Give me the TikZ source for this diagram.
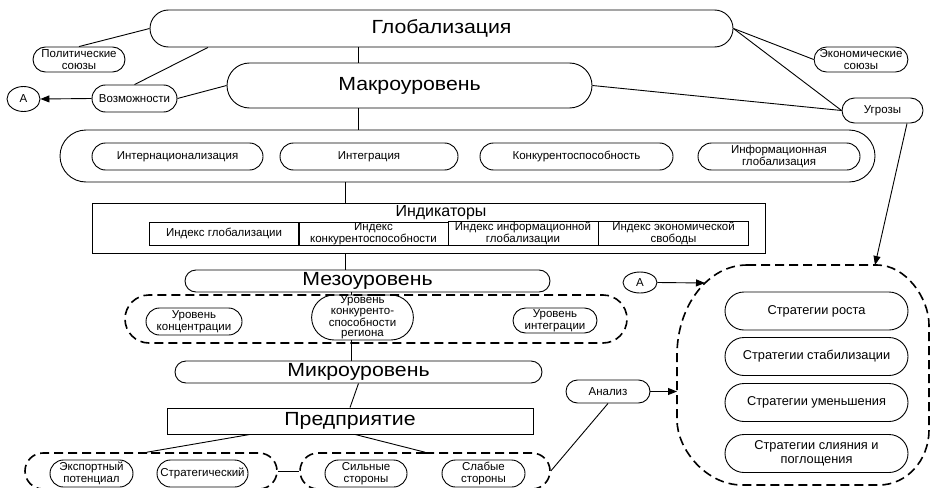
\documentclass[tikz,border=0pt]{standalone}
\usepackage{fontspec}
\setmainfont{Liberation Sans}
\newfontfamily\widesans[FakeStretch=1.12]{Liberation Sans}
\usetikzlibrary{shapes.misc,shapes.geometric,arrows.meta}
\newcommand\smallfnt{\fontsize{11.5}{12.5}\selectfont}
\newcommand\stratfnt{\fontsize{12.8}{14}\selectfont}
\newcommand\tightfnt{\fontsize{11.5}{10.8}\selectfont}
\newcommand\bigfnt{\widesans\fontsize{19}{22}\selectfont}
\newcommand\midfnt{\fontsize{16}{18}\selectfont}
\begin{document}
\begin{tikzpicture}[x=1pt,y=-1pt,
  pill/.style={rounded rectangle, draw, line width=0.9pt, inner sep=0pt, align=center, font=\smallfnt},
  bigpill/.style={pill, font=\bigfnt},
  cell/.style={rectangle, draw, line width=0.9pt, inner sep=0pt, align=center, font=\smallfnt},
  dbox/.style={rounded rectangle, draw, line width=1.6pt, dash pattern=on 9pt off 5pt, inner sep=0pt},
  link/.style={line width=0.9pt},
  arr/.style={line width=0.9pt, -{Triangle[length=9pt,width=7pt]}},
  oval/.style={ellipse, draw, line width=0.9pt, inner sep=0pt, font=\smallfnt}
]
\useasboundingbox (0,0) rectangle (931,487);

% ---------- global level ----------
\node[bigpill, minimum width=583pt, minimum height=37pt] (glob) at (441.5,28.5) {Глобализация};
\node[pill, minimum width=92pt, minimum height=25pt] (polit) at (79,59.5) {Политические\\союзы};
\node[pill, minimum width=92pt, minimum height=25pt] (econ) at (861,59.5) {Экономические\\союзы};
\node[bigpill, minimum width=365pt, minimum height=45pt] (makro) at (409.5,85.5) {Макроуровень};
\node[pill, minimum width=85pt, minimum height=27pt] (vozm) at (134.5,98.5) {Возможности};
\node[oval, minimum width=33pt, minimum height=25pt] (a1) at (23.5,99) {А};
\node[pill, minimum width=81pt, minimum height=25pt] (ugr) at (882.5,110.5) {Угрозы};

% ---------- macro factors ----------
\node[pill, minimum width=815pt, minimum height=52pt] (bigc) at (467.5,156) {};
\node[pill, minimum width=171pt, minimum height=27pt] (f1) at (177.5,156.5) {Интернационализация};
\node[pill, minimum width=178pt, minimum height=27pt] (f2) at (369,156.5) {Интеграция};
\node[pill, minimum width=193pt, minimum height=27pt] (f3) at (576.5,156.5) {Конкурентоспособность};
\node[pill, minimum width=162pt, minimum height=27pt] (f4) at (779,156.5) {Информационная\\глобализация};

% ---------- indicators ----------
\node[cell, minimum width=673pt, minimum height=50pt] (ind) at (428.5,228) {};
\node[font=\midfnt, inner sep=0pt] (indt) at (441,213) {Индикаторы};
\node[cell, minimum width=150pt, minimum height=23pt] (i1) at (224,233.5) {Индекс глобализации};
\node[cell, minimum width=150pt, minimum height=23pt] (i2) at (373.5,233.5) {Индекс\\конкурентоспособности};
\node[cell, minimum width=150pt, minimum height=23pt] (i3) at (523,233.5) {Индекс информационной\\глобализации};
\node[cell, minimum width=150pt, minimum height=23pt] (i4) at (673.5,233.5) {Индекс экономической\\свободы};

% ---------- meso level ----------
\node[bigpill, minimum width=365pt, minimum height=22pt] (meso) at (367.5,281) {Мезоуровень};
\node[dbox, minimum width=502pt, minimum height=48pt] (mesoc) at (376,319) {};
\node[pill, minimum width=96pt, minimum height=27pt] (conc) at (194,321.5) {Уровень\\концентрации};
\node[pill, minimum width=81pt, minimum height=45pt, font=\tightfnt] (reg) at (362.5,317.5) {Уровень\\конкуренто-\\способности\\региона};
\node[pill, minimum width=84pt, minimum height=25pt] (integ) at (555,320.5) {Уровень\\интеграции};

% ---------- micro level ----------
\node[bigpill, minimum width=367pt, minimum height=22pt] (mikro) at (358.5,372) {Микроуровень};
\node[cell, font=\bigfnt, minimum width=366pt, minimum height=26pt] (pred) at (350,421) {Предприятие};

\node[dbox, minimum width=252pt, minimum height=36pt] (lc) at (151,471) {};
\node[pill, minimum width=83pt, minimum height=27pt] (exp) at (91.5,473.5) {Экспортный\\потенциал};
\node[pill, minimum width=91pt, minimum height=27pt] (strg) at (202.5,473.5) {Стратегический};
\node[dbox, minimum width=250pt, minimum height=36pt] (rc) at (425,471) {};
\node[pill, minimum width=82pt, minimum height=27pt] (sil) at (366,473.5) {Сильные\\стороны};
\node[pill, minimum width=83pt, minimum height=27pt] (slab) at (483.5,473.5) {Слабые\\стороны};

\node[pill, minimum width=84pt, minimum height=23pt] (anal) at (608,391.5) {Анализ};
\node[oval, minimum width=34pt, minimum height=21pt] (a2) at (640,282.5) {А};

% ---------- strategies ----------
\draw[line width=1.6pt, dash pattern=on 9pt off 5pt]
  (747,265) -- (877,265)
  .. controls (905.7,265) and (929,298.1) .. (929,325)
  -- (929,430)
  .. controls (929,460.4) and (906.6,485) .. (879,485)
  -- (742,485)
  .. controls (706.1,485) and (677,449.1) .. (677,420)
  -- (677,355)
  .. controls (677,305.3) and (708.4,265) .. cycle;
\coordinate (stTop) at (875,265);
\coordinate (stA) at (705,283);
\coordinate (stW) at (677,391.5);
\node[pill, font=\stratfnt, minimum width=183pt, minimum height=38pt] (s1) at (816.5,311) {Стратегии роста};
\node[pill, font=\stratfnt, minimum width=183pt, minimum height=38pt] (s2) at (816.5,356.5) {Стратегии стабилизации};
\node[pill, font=\stratfnt, minimum width=183pt, minimum height=38pt] (s3) at (816.5,402.5) {Стратегии уменьшения};
\node[pill, font=\stratfnt, minimum width=183pt, minimum height=38pt] (s4) at (816.5,453.5) {Стратегии слияния и\\поглощения};

% ---------- connectors ----------
\coordinate (x358) at (358,0);
\coordinate (x208) at (208,0);
\coordinate (x345) at (345,0);
\coordinate (x351) at (351,0);
\coordinate (x250) at (250,0);
\coordinate (x147) at (147,0);
\coordinate (x355) at (355,0);
\coordinate (x907) at (907,0);

\draw[link] (glob.south -| x358) -- (makro.north -| x358);
\draw[link] (polit.north) -- (glob.west);
\draw[link] (vozm.north) -- (glob.south -| x208);
\draw[link] (vozm.east) -- (makro.west);
\draw[arr] (vozm.west) -- (a1.east);
\draw[link] (glob.east) -- (econ.west);
\draw[link] (glob.east) -- (ugr.west);
\draw[link] (makro.east) -- (ugr.west);
\draw[arr] (ugr.south -| x907) -- (stTop);

\draw[link] (makro.south -| x358) -- (bigc.north -| x358);
\draw[link] (bigc.south -| x345) -- (ind.north -| x345);
\draw[link] (ind.south -| x345) -- (meso.north -| x345);
\draw[link] (meso.south -| x351) -- (reg.north -| x351);
\draw[link] (reg.south -| x351) -- (mikro.north -| x351);
\draw[link] (mikro.south) -- (pred.north);

\draw[link] (pred.south -| x250) -- (lc.north -| x147);
\draw[link] (pred.south -| x355) -- (rc.north);
\draw[link] (lc.east) -- (rc.west);
\draw[link] (rc.east) -- (anal.south);
\draw[arr] (anal.east) -- (stW);
\draw[arr] (a2.east) -- (stA);
\end{tikzpicture}
\end{document}
